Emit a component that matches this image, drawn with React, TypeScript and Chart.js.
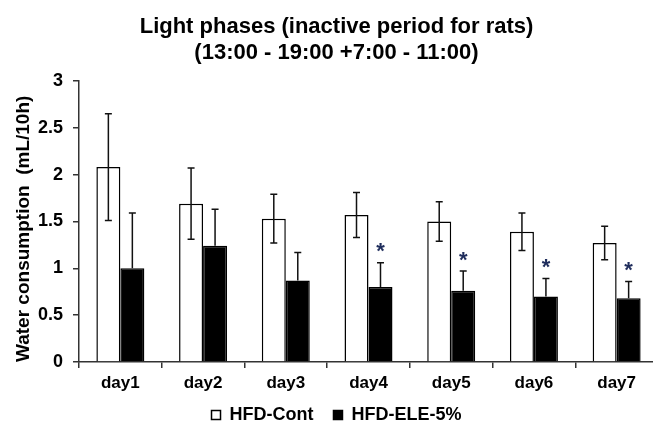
import React, { useEffect, useRef } from 'react';
import { Chart, registerables } from 'chart.js';

Chart.register(...registerables);

const categories = ['day1', 'day2', 'day3', 'day4', 'day5', 'day6', 'day7'];
const seriesNames = ['HFD-Cont', 'HFD-ELE-5%'];
const contMeans = [2.08, 1.69, 1.53, 1.57, 1.50, 1.39, 1.27];
const contErr = [0.57, 0.38, 0.26, 0.24, 0.21, 0.20, 0.18];
const eleMeans = [1.00, 1.24, 0.87, 0.80, 0.76, 0.70, 0.68];
const eleErr = [0.59, 0.39, 0.30, 0.26, 0.21, 0.19, 0.18];
const eleSignificant = [false, false, false, true, true, true, true];
const titleLines = ['Light phases (inactive period for rats)', '(13:00 - 19:00 +7:00 - 11:00)'];
const yAxisTitle = 'Water consumption  (mL/10h)';
const yMin = 0;
const yMax = 3;
const yStep = 0.5;

const REGULAR = '"Liberation Sans", Arial, sans-serif';

const errorBarPlugin = {
  id: 'errorBars',
  afterDatasetsDraw(chart: any) {
    const { ctx } = chart;
    const y = chart.scales.y;
    const sets = [
      { means: contMeans, errs: contErr, lower: true },
      { means: eleMeans, errs: eleErr, lower: false },
    ];
    ctx.save();
    ctx.strokeStyle = '#111';
    ctx.lineWidth = 1.5;
    sets.forEach((s, di) => {
      const meta = chart.getDatasetMeta(di);
      meta.data.forEach((bar: any, i: number) => {
        const x = bar.x;
        const top = y.getPixelForValue(s.means[i] + s.errs[i]);
        const mid = y.getPixelForValue(s.means[i]);
        const bot = y.getPixelForValue(s.means[i] - s.errs[i]);
        ctx.beginPath();
        ctx.moveTo(x, top);
        ctx.lineTo(x, s.lower ? bot : mid);
        ctx.moveTo(x - 3.5, top);
        ctx.lineTo(x + 3.5, top);
        if (s.lower) {
          ctx.moveTo(x - 3.5, bot);
          ctx.lineTo(x + 3.5, bot);
        }
        ctx.stroke();
      });
    });
    // significance stars
    ctx.font = `bold 22px ${REGULAR}`;
    ctx.fillStyle = '#1f2d5c';
    ctx.textAlign = 'center';
    ctx.textBaseline = 'alphabetic';
    const m = ctx.measureText('*');
    const asc = m.actualBoundingBoxAscent;
    const desc = m.actualBoundingBoxDescent;
    const meta1 = chart.getDatasetMeta(1);
    meta1.data.forEach((bar: any, i: number) => {
      if (!eleSignificant[i]) return;
      const top = y.getPixelForValue(eleMeans[i] + eleErr[i]);
      const cy = top - 15;
      ctx.fillText('*', bar.x, cy + (asc - desc) / 2);
    });
    ctx.restore();
  },
};

export default function App() {
  const ref = useRef<HTMLCanvasElement | null>(null);
  useEffect(() => {
    if (!ref.current) return;
    Chart.defaults.font.family = REGULAR;
    const chart = new Chart(ref.current, {
      type: 'bar',
      data: {
        labels: categories,
        datasets: [
          {
            label: seriesNames[0],
            data: contMeans,
            backgroundColor: '#ffffff',
            borderColor: '#000000',
            borderWidth: 1.5,
            categoryPercentage: 0.58,
            barPercentage: 1.0,
          },
          {
            label: seriesNames[1],
            data: eleMeans,
            backgroundColor: '#000000',
            borderColor: '#000000',
            borderWidth: 1.5,
            categoryPercentage: 0.58,
            barPercentage: 1.0,
          },
        ],
      },
      options: {
        responsive: false,
        animation: false,
        devicePixelRatio: 1,
        layout: { padding: { left: 15, right: 15, top: 0, bottom: 0 } },
        plugins: {
          title: {
            display: true,
            text: titleLines,
            color: '#000',
            font: { size: 22, weight: 'bold', lineHeight: 1.18 },
            padding: { top: 14, bottom: 15 },
          },
          legend: {
            position: 'bottom',
            labels: {
              color: '#000',
              font: { size: 18, weight: 'bold' },
              boxWidth: 9,
              boxHeight: 9,
              padding: 20,
            },
          },
          tooltip: { enabled: false },
        },
        scales: {
          x: {
            type: 'category',
            offset: true,
            grid: { offset: true, drawOnChartArea: false, tickLength: 6, color: '#333', lineWidth: 1.5 },
            border: { color: '#333', width: 1.5 },
            ticks: { color: '#000', font: { size: 17, weight: 'bold' }, mirror: true, padding: -32 },
            afterFit: (s: any) => {
              s.height = 24;
            },
          },
          y: {
            min: yMin,
            max: yMax,
            ticks: {
              stepSize: yStep,
              color: '#000',
              font: { size: 18, weight: 'bold' },
              padding: 10,
              callback: (v: any) => String(v),
            },
            grid: { drawOnChartArea: false, tickLength: 6, color: '#333', lineWidth: 1.5 },
            border: { color: '#333', width: 1.5 },
            title: {
              display: true,
              text: yAxisTitle,
              align: 'start',
              color: '#000',
              font: { size: 19, weight: 'bold', lineHeight: 1.0 },
              padding: { top: -1, bottom: 0 },
            },
            afterFit: (s: any) => {
              s.width = 64;
            },
          },
        },
      },
      plugins: [errorBarPlugin],
    });
    return () => chart.destroy();
  }, []);
  return (
    <div style={{ position: 'fixed', left: 0, top: 0, width: 653, height: 421, overflow: 'hidden', background: '#fff' }}>
      <canvas ref={ref} width={673} height={434} style={{ display: 'block' }} />
    </div>
  );
}
